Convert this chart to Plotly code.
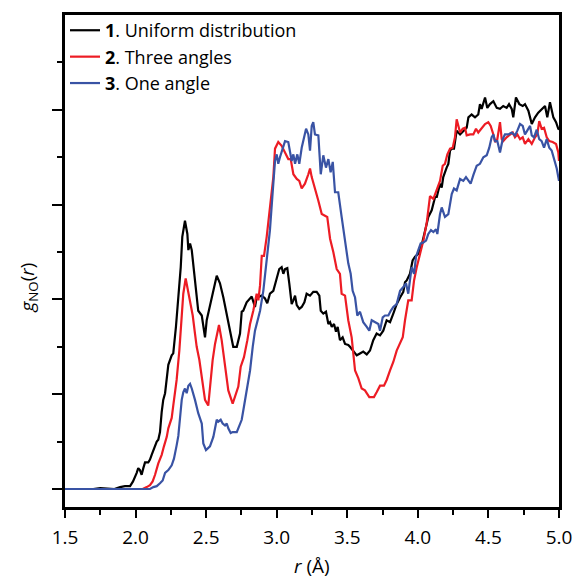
import plotly.graph_objects as go

# ---- data (r in Å, g_NO(r) in arbitrary units) ----
r_uniform = [1.50, 1.70, 1.75, 1.85, 1.890, 1.925, 1.961, 1.982, 2.008, 2.019, 2.031, 2.043, 2.055, 2.067, 2.090,
             2.102, 2.114, 2.131, 2.150, 2.161, 2.173, 2.185, 2.196, 2.209, 2.221, 2.232, 2.256, 2.267, 2.286,
             2.303, 2.320, 2.331, 2.350, 2.367, 2.374, 2.386, 2.398, 2.416, 2.433, 2.444, 2.469, 2.480, 2.492,
             2.504, 2.527, 2.551, 2.575, 2.598, 2.622, 2.646, 2.669, 2.692, 2.717, 2.740, 2.752, 2.763, 2.787,
             2.823, 2.846, 2.858, 2.894, 2.917, 2.933, 2.952, 2.976, 3.000, 3.018, 3.035, 3.047, 3.059, 3.075,
             3.089, 3.106, 3.118, 3.130, 3.142, 3.160, 3.177, 3.196, 3.212, 3.236, 3.259, 3.283, 3.302, 3.312,
             3.330, 3.349, 3.366, 3.378, 3.390, 3.406, 3.420, 3.432, 3.448, 3.467, 3.484, 3.507, 3.519, 3.543,
             3.567, 3.590, 3.613, 3.638, 3.661, 3.684, 3.708, 3.732, 3.755, 3.779, 3.803, 3.826, 3.850, 3.874,
             3.897, 3.909, 3.921, 3.944, 3.963, 3.980, 4.003, 4.027, 4.051, 4.074, 4.098, 4.122, 4.134, 4.157,
             4.169, 4.180, 4.204, 4.216, 4.228, 4.240, 4.256, 4.275, 4.299, 4.322, 4.346, 4.358, 4.381, 4.405,
             4.428, 4.440, 4.452, 4.476, 4.492, 4.511, 4.535, 4.559, 4.582, 4.605, 4.629, 4.646, 4.665, 4.676,
             4.695, 4.719, 4.743, 4.759, 4.783, 4.807, 4.830, 4.853, 4.877, 4.901, 4.917, 4.936, 4.960, 4.979,
             4.995, 5.000]
g_uniform = [0.00, 0.00, 0.01, 0.00, 0.02, 0.03, 0.03, 0.08, 0.17, 0.22, 0.20, 0.15, 0.22, 0.28, 0.28,
             0.31, 0.36, 0.43, 0.50, 0.52, 0.60, 0.81, 0.94, 1.01, 1.18, 1.31, 1.41, 1.43, 1.71,
             1.99, 2.34, 2.66, 2.83, 2.69, 2.52, 2.59, 2.52, 2.27, 1.99, 1.88, 1.83, 1.74, 1.60,
             1.78, 1.92, 2.09, 2.25, 2.17, 2.02, 1.85, 1.67, 1.50, 1.50, 1.64, 1.87, 1.88, 1.97,
             2.03, 1.92, 2.02, 2.04, 2.01, 1.96, 2.06, 2.09, 2.23, 2.32, 2.34, 2.27, 2.32, 2.33,
             2.17, 1.95, 1.99, 2.04, 1.94, 1.90, 1.92, 1.97, 2.06, 2.04, 2.08, 2.08, 2.04, 1.88,
             1.85, 1.87, 1.74, 1.76, 1.71, 1.74, 1.66, 1.71, 1.57, 1.60, 1.53, 1.52, 1.50, 1.46,
             1.41, 1.43, 1.45, 1.42, 1.46, 1.57, 1.64, 1.62, 1.67, 1.78, 1.76, 1.85, 1.95, 2.02,
             2.08, 2.18, 2.20, 2.27, 2.41, 2.45, 2.48, 2.57, 2.73, 2.87, 2.94, 3.08, 3.08, 3.22,
             3.18, 3.29, 3.39, 3.43, 3.57, 3.59, 3.59, 3.78, 3.74, 3.78, 3.81, 3.92, 3.95, 3.92,
             3.95, 4.06, 4.01, 4.13, 4.02, 4.06, 4.09, 4.02, 4.01, 4.04, 4.02, 4.06, 4.01, 3.92,
             4.13, 4.06, 4.04, 4.06, 3.99, 3.85, 3.92, 3.97, 4.01, 4.04, 3.92, 4.08, 3.92, 3.87,
             3.80, 3.79]

r_three = [1.50, 2.05, 2.079, 2.102, 2.121, 2.138, 2.161, 2.185, 2.201, 2.221, 2.232, 2.256, 2.267, 2.291,
           2.310, 2.327, 2.338, 2.355, 2.374, 2.386, 2.405, 2.421, 2.433, 2.452, 2.469, 2.492, 2.515, 2.527,
           2.546, 2.563, 2.591, 2.610, 2.634, 2.657, 2.688, 2.704, 2.728, 2.745, 2.768, 2.792, 2.811, 2.834,
           2.858, 2.870, 2.882, 2.894, 2.910, 2.929, 2.948, 2.964, 2.976, 2.988, 3.011, 3.035, 3.059, 3.082,
           3.099, 3.118, 3.142, 3.160, 3.177, 3.200, 3.224, 3.236, 3.248, 3.271, 3.295, 3.319, 3.342, 3.358,
           3.378, 3.401, 3.425, 3.448, 3.460, 3.484, 3.507, 3.531, 3.555, 3.578, 3.602, 3.625, 3.656, 3.689,
           3.708, 3.732, 3.760, 3.779, 3.803, 3.826, 3.850, 3.874, 3.893, 3.909, 3.932, 3.956, 3.973, 3.992,
           4.015, 4.039, 4.063, 4.086, 4.110, 4.134, 4.157, 4.176, 4.192, 4.209, 4.228, 4.247, 4.263, 4.275,
           4.287, 4.299, 4.318, 4.334, 4.346, 4.370, 4.393, 4.412, 4.428, 4.452, 4.476, 4.499, 4.516, 4.535,
           4.547, 4.563, 4.582, 4.594, 4.605, 4.629, 4.653, 4.672, 4.688, 4.705, 4.724, 4.743, 4.759, 4.783,
           4.807, 4.830, 4.846, 4.860, 4.877, 4.894, 4.913, 4.931, 4.955, 4.979, 4.995, 5.000]
g_three = [0.00, 0.00, 0.02, 0.04, 0.08, 0.15, 0.27, 0.36, 0.45, 0.55, 0.64, 0.75, 0.88, 1.15,
           1.46, 1.81, 2.06, 2.22, 2.06, 1.95, 1.83, 1.64, 1.50, 1.36, 1.18, 0.94, 0.88, 1.08,
           1.36, 1.53, 1.73, 1.57, 1.29, 1.04, 0.90, 0.97, 1.08, 1.29, 1.39, 1.57, 1.74, 1.88,
           2.06, 1.99, 2.15, 2.46, 2.46, 2.66, 2.94, 3.18, 3.29, 3.59, 3.66, 3.62, 3.55, 3.48,
           3.48, 3.32, 3.27, 3.25, 3.17, 3.22, 3.32, 3.38, 3.29, 3.18, 3.04, 2.90, 2.88, 2.87,
           2.64, 2.50, 2.32, 2.27, 2.06, 2.04, 1.78, 1.60, 1.25, 1.17, 1.06, 1.04, 0.97, 0.97,
           1.02, 1.09, 1.09, 1.15, 1.25, 1.34, 1.46, 1.55, 1.60, 1.78, 1.99, 1.99, 2.20, 2.34,
           2.48, 2.62, 2.81, 3.09, 3.06, 3.15, 3.25, 3.41, 3.43, 3.53, 3.59, 3.60, 3.71, 3.90,
           3.81, 3.76, 3.80, 3.81, 3.73, 3.74, 3.74, 3.80, 3.76, 3.81, 3.85, 3.87, 3.83, 3.74,
           3.66, 3.69, 3.87, 3.69, 3.67, 3.71, 3.74, 3.76, 3.71, 3.74, 3.69, 3.71, 3.64, 3.69,
           3.64, 3.71, 3.74, 3.88, 3.80, 3.81, 3.71, 3.67, 3.66, 3.64, 3.55, 3.46]

r_one = [1.50, 2.102, 2.126, 2.150, 2.173, 2.192, 2.209, 2.232, 2.256, 2.272, 2.291, 2.303, 2.315, 2.327,
         2.338, 2.350, 2.362, 2.374, 2.386, 2.398, 2.421, 2.444, 2.469, 2.480, 2.499, 2.515, 2.527, 2.551,
         2.575, 2.586, 2.603, 2.617, 2.634, 2.646, 2.657, 2.674, 2.688, 2.717, 2.740, 2.752, 2.768, 2.787,
         2.811, 2.830, 2.846, 2.870, 2.882, 2.905, 2.929, 2.952, 2.969, 2.988, 3.000, 3.011, 3.023, 3.042,
         3.059, 3.082, 3.094, 3.106, 3.118, 3.130, 3.146, 3.160, 3.177, 3.196, 3.208, 3.224, 3.236, 3.248,
         3.259, 3.271, 3.295, 3.312, 3.330, 3.349, 3.366, 3.382, 3.397, 3.413, 3.436, 3.460, 3.484, 3.507,
         3.524, 3.538, 3.555, 3.571, 3.590, 3.613, 3.638, 3.656, 3.673, 3.696, 3.720, 3.732, 3.751, 3.767,
         3.791, 3.808, 3.826, 3.850, 3.874, 3.897, 3.916, 3.932, 3.944, 3.956, 3.973, 3.987, 4.003, 4.020,
         4.039, 4.058, 4.074, 4.093, 4.110, 4.129, 4.138, 4.157, 4.169, 4.192, 4.216, 4.240, 4.256, 4.275,
         4.299, 4.322, 4.341, 4.358, 4.374, 4.393, 4.417, 4.440, 4.464, 4.488, 4.506, 4.523, 4.535, 4.547,
         4.563, 4.582, 4.601, 4.617, 4.641, 4.665, 4.688, 4.705, 4.724, 4.743, 4.759, 4.775, 4.795, 4.807,
         4.823, 4.842, 4.860, 4.877, 4.894, 4.913, 4.931, 4.948, 4.965, 4.984, 5.000]
g_one = [0.00, 0.00, 0.02, 0.03, 0.06, 0.09, 0.17, 0.20, 0.25, 0.32, 0.46, 0.56, 0.75, 0.94,
         1.02, 1.06, 1.01, 1.09, 1.11, 1.06, 0.94, 0.80, 0.69, 0.48, 0.41, 0.43, 0.45, 0.55,
         0.73, 0.71, 0.73, 0.69, 0.67, 0.69, 0.64, 0.59, 0.60, 0.60, 0.69, 0.73, 0.87, 1.04,
         1.25, 1.50, 1.67, 1.81, 1.88, 2.09, 2.41, 2.73, 3.08, 3.46, 3.53, 3.43, 3.50, 3.60,
         3.67, 3.66, 3.57, 3.46, 3.53, 3.43, 3.53, 3.43, 3.60, 3.71, 3.80, 3.74, 3.57, 3.83,
         3.87, 3.74, 3.73, 3.32, 3.52, 3.39, 3.48, 3.34, 3.45, 3.13, 3.13, 2.87, 2.62, 2.38,
         2.27, 2.09, 2.02, 1.83, 1.87, 1.76, 1.71, 1.67, 1.78, 1.76, 1.74, 1.67, 1.81, 1.83,
         1.83, 1.88, 1.92, 1.95, 2.09, 2.13, 2.17, 2.06, 2.20, 2.34, 2.27, 2.45, 2.52, 2.59,
         2.60, 2.62, 2.69, 2.73, 2.71, 2.74, 2.69, 2.90, 2.97, 2.87, 2.90, 3.11, 3.17, 3.15,
         3.27, 3.25, 3.29, 3.25, 3.22, 3.31, 3.41, 3.43, 3.50, 3.52, 3.60, 3.71, 3.74, 3.67,
         3.67, 3.55, 3.69, 3.74, 3.74, 3.76, 3.73, 3.78, 3.85, 3.83, 3.74, 3.78, 3.83, 3.73,
         3.71, 3.79, 3.69, 3.67, 3.60, 3.69, 3.60, 3.57, 3.48, 3.38, 3.25]

series_names = ["<b>1</b>. Uniform distribution", "<b>2</b>. Three angles", "<b>3</b>. One angle"]
series_colors = ["#000000", "#ed1c24", "#3953a4"]
x_tick_vals = [1.5, 2.0, 2.5, 3.0, 3.5, 4.0, 4.5, 5.0]
x_tick_text = ["1.5", "2.0", "2.5", "3.0", "3.5", "4.0", "4.5", "5.0"]
y_major = [0, 1, 2, 3, 4]
y_minor = [0.5, 1.5, 2.5, 3.5, 4.5]
x_minor = [1.75, 2.25, 2.75, 3.25, 3.75, 4.25, 4.75]
x_title = "<i>r</i> (Å)"
y_title = "<i>g</i><sub>NO</sub>(<i>r</i>)"

FONT = "Open Sans"

fig = go.Figure()
for r, g, name, col in zip([r_uniform, r_three, r_one], [g_uniform, g_three, g_one],
                           series_names, series_colors):
    fig.add_trace(go.Scatter(x=r, y=g, mode="lines", name=name,
                             line=dict(color=col, width=2.2)))

fig.update_layout(
    width=576, height=578,
    margin=dict(l=65, r=17, t=12, b=71),
    paper_bgcolor="white", plot_bgcolor="white",
    font=dict(family=FONT, size=19, color="black"),
    showlegend=True,
    legend=dict(x=0.0, y=1.006, xanchor="left", yanchor="top",
                bgcolor="rgba(0,0,0,0)", borderwidth=0,
                font=dict(family=FONT, size=18, color="black"),
                tracegroupgap=0, itemwidth=30),
    annotations=[
        dict(text=x_title, xref="paper", yref="paper", x=0.5, y=-0.119,
             xanchor="center", yanchor="middle", showarrow=False,
             font=dict(family=FONT, size=19, color="black")),
        dict(text=y_title, xref="paper", yref="paper", x=-0.0749, y=0.446,
             xanchor="center", yanchor="middle", showarrow=False, textangle=-90,
             font=dict(family=FONT, size=19, color="black")),
    ],
)
fig.update_xaxes(
    range=[1.5, 5.0], showgrid=False, zeroline=False, automargin=False,
    showline=True, mirror=True, linecolor="black", linewidth=2.5,
    ticks="outside", ticklen=8, tickwidth=2, tickcolor="black",
    tickvals=x_tick_vals, ticktext=x_tick_text, ticklabelstandoff=3,
    tickfont=dict(family=FONT, size=19),
    minor=dict(tickvals=x_minor, ticks="outside", ticklen=5, tickwidth=2, tickcolor="black"),
)
fig.update_yaxes(
    range=[-0.19, 5.0], showgrid=False, zeroline=False, automargin=False,
    showline=True, mirror=True, linecolor="black", linewidth=2.5,
    ticks="outside", ticklen=10, tickwidth=2, tickcolor="black",
    tickvals=y_major, showticklabels=False,
    minor=dict(tickvals=y_minor, ticks="outside", ticklen=5, tickwidth=2, tickcolor="black"),
)

fig.write_html("out.html")
